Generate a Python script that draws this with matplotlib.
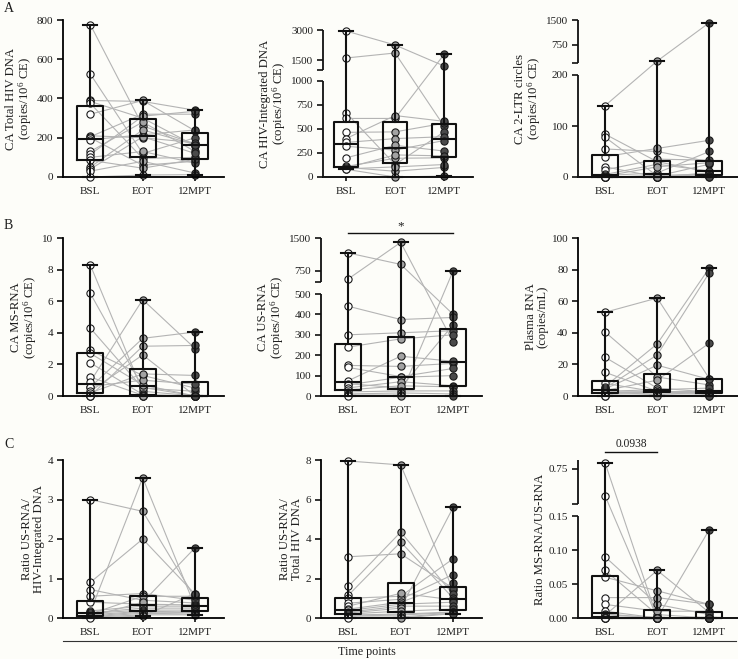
import numpy as np
import matplotlib
matplotlib.use('Agg')
import matplotlib.pyplot as plt
from matplotlib.lines import Line2D

plt.rcParams['font.family'] = 'serif'
plt.rcParams['font.serif'] = ['Liberation Serif', 'DejaVu Serif']
plt.rcParams['mathtext.fontset'] = 'custom'
plt.rcParams['mathtext.rm'] = 'Liberation Serif'
plt.rcParams['mathtext.default'] = 'regular'

categories = ['BSL', 'EOT', '12MPT']

# ---------------- data (one list per time point, patient order) ----------------
a1_bsl = [777, 525, 390, 385, 375, 320, 210, 205, 200, 190, 130, 115, 100, 85, 50, 40, 30, 0]
a1_eot = [260, 120, 385, 300, 95, 390, 200, 320, 60, 215, 280, 310, 130, 45, 240, 205, 80, 10]
a1_mpt = [168, 200, 340, 160, 100, 235, 175, 320, 80, 240, 130, 335, 70, 90, 165, 120, 20, 12]

a2_bsl = [2950, 1600, 670, 610, 465, 400, 360, 320, 200, 110, 100, 95, 85, 80]
a2_eot = [2250, 1850, 130, 610, 470, 640, 400, 280, 330, 195, 60, 230, 105, 0]
a2_mpt = [1200, 530, 470, 1780, 560, 580, 420, 380, 270, 200, 100, 220, 130, 10]

a3_bsl = [140, 84, 78, 55, 40, 20, 14, 5, 3, 2, 0, 0, 0, 0, 0, 0]
a3_eot = [260, 30, 2, 50, 56, 0, 35, 25, 8, 20, 3, 0, 0, 0, 0, 0]
a3_mpt = [1420, 10, 25, 30, 72, 8, 33, 12, 50, 28, 6, 5, 2, 1, 0, 0]

b1_bsl = [8.3, 6.5, 4.3, 2.9, 2.7, 2.1, 1.2, 0.9, 0.6, 0.55, 0.3, 0.2, 0.05, 0, 0, 0]
b1_eot = [0.3, 0.55, 0.5, 1.3, 0.7, 0.1, 0.05, 6.1, 1.0, 3.65, 2.6, 1.4, 0, 3.15, 0, 0]
b1_mpt = [0, 0, 0.3, 0.5, 0, 0, 0, 3.0, 0.75, 4.05, 0, 1.3, 0, 3.2, 0, 0]

b2_bsl = [1160, 570, 440, 300, 240, 150, 140, 75, 60, 55, 40, 30, 20, 10, 5, 0]
b2_eot = [900, 1400, 375, 310, 280, 145, 95, 195, 40, 92, 70, 50, 25, 15, 5, 0]
b2_mpt = [400, 265, 385, 320, 300, 160, 135, 170, 350, 100, 50, 45, 25, 10, 755, 0]

b3_bsl = [53, 40.5, 24.5, 15, 8, 6, 5, 4.5, 3.5, 3, 2.5, 2, 1.5, 1, 0, 0]
b3_eot = [62, 12, 5, 3, 2.5, 33, 26, 19.5, 10, 4, 2.8, 2.6, 2.4, 2, 1, 0]
b3_mpt = [11, 7, 2.5, 2.3, 3, 81, 78, 10.5, 33.5, 5, 2.8, 2, 1.5, 1, 0, 0]

c1_bsl = [3.0, 0.9, 0.72, 0.55, 0.4, 0.18, 0.15, 0.13, 0.12, 0.1, 0.08, 0.05, 0.04, 0.03, 0.02, 0]
c1_eot = [2.7, 2.0, 0.45, 0.62, 0.35, 0.3, 3.55, 0.25, 0.2, 0.55, 0.17, 0.15, 0.4, 0.12, 0.08, 0.05]
c1_mpt = [0.5, 0.6, 0.38, 0.45, 0.33, 0.3, 0.28, 0.25, 0.2, 0.55, 0.15, 0.14, 1.78, 0.1, 0.08, 0.62]

c2_bsl = [7.95, 3.1, 1.6, 1.15, 1.0, 0.75, 0.6, 0.45, 0.38, 0.3, 0.25, 0.2, 0.15, 0.1, 0.05, 0]
c2_eot = [7.75, 3.25, 4.35, 3.85, 1.1, 0.95, 1.25, 0.8, 0.7, 0.6, 0.5, 0.35, 0.2, 0.15, 0.05, 0]
c2_mpt = [1.4, 1.5, 1.2, 1.0, 3.0, 2.2, 0.92, 1.75, 0.8, 0.6, 5.6, 0.45, 0.3, 0.28, 0.25, 0.22]

c3_bsl = [0.85, 0.29, 0.09, 0.07, 0.06, 0.03, 0.02, 0.01, 0.006, 0.005, 0.004, 0.002, 0, 0, 0, 0]
c3_eot = [0, 0, 0.02, 0.005, 0.04, 0.03, 0.01, 0, 0, 0, 0.07, 0, 0, 0, 0, 0]
c3_mpt = [0, 0, 0.005, 0, 0.02, 0.02, 0.01, 0, 0, 0.13, 0.008, 0, 0, 0, 0, 0]

# ---------------- figure ----------------
W, H = 738, 659
fig = plt.figure(figsize=(W / 100, H / 100), dpi=100)
BG = '#fdfdf9'
fig.patch.set_facecolor(BG)

FILLS = ['white', '#a3a3a3', '#4a4a4a']
TXT = '#1e1e1e'
INK = '#111111'


def px_axes(left, top, width, height):
    ax = fig.add_axes([left / W, 1 - (top + height) / H, width / W, height / H])
    ax.set_facecolor('none')
    return ax


def make_break(b, k1, gap, k2):
    def fwd(v):
        v = np.asarray(v, dtype=float)
        return np.where(v <= b, v * k1, b * k1 + gap + (v - b) * k2)

    def inv(y):
        y = np.asarray(y, dtype=float)
        yb = b * k1
        return np.where(y <= yb, y / k1,
                        np.where(y < yb + gap, b, b + (y - yb - gap) / k2))
    return fwd, inv


def panel(ax, series, ylabel, yticks, ytop, xlim, brk=None, fmt='{:g}'):
    pos = np.arange(3)
    bsl, eot, mpt = series
    if brk is not None:
        f, i = make_break(*brk)
        ax.set_yscale('function', functions=(f, i))
    # connecting lines
    for k in range(len(bsl)):
        ax.plot(pos, [bsl[k], eot[k], mpt[k]], color='#b4b4b4', lw=0.8,
                zorder=1, clip_on=False)
    # points
    for j, vals in enumerate(series):
        ax.plot(np.full(len(vals), pos[j]), vals, 'o', ms=5.2, mfc=FILLS[j],
                mec='#1a1a1a', mew=0.8, zorder=2, clip_on=False)
    lp = dict(color=INK, lw=1.5)
    bp = ax.boxplot([np.asarray(s, float) for s in series], positions=pos,
                    widths=0.5, whis=(0, 100), showfliers=False, capwidths=0.27,
                    boxprops=lp, whiskerprops=lp, capprops=lp,
                    medianprops=lp, manage_ticks=False)
    for arts in bp.values():
        for a in arts:
            a.set_zorder(3)
            a.set_clip_on(False)
    ax.set_xlim(*xlim)
    ax.set_ylim(0, ytop)
    ax.set_xticks(pos, categories)
    ax.set_yticks(yticks, [fmt.format(t) for t in yticks])
    for s in ('top', 'right'):
        ax.spines[s].set_visible(False)
    ax.spines['bottom'].set_linewidth(1.3)
    ax.spines['left'].set_linewidth(1.3)
    ax.tick_params(axis='both', direction='out', length=4, width=1.2,
                   labelsize=8, pad=3, colors=INK, labelcolor=TXT)
    ax.tick_params(axis='x', length=3, pad=4)
    if brk is not None:
        b = brk[0]
        ax.spines['left'].set_visible(False)
        tr = ax.get_yaxis_transform()
        ax.plot([0, 0], [0, b], transform=tr, color=INK, lw=1.3,
                clip_on=False, solid_capstyle='butt', zorder=4)
        ax.plot([0, 0], [b * (1 + 1e-9), ytop], transform=tr, color=INK,
                lw=1.3, clip_on=False, solid_capstyle='butt', zorder=4)
        ax.set_yticks([b * (1 + 1e-9)], minor=True)
        ax.tick_params(axis='y', which='minor', direction='out', length=4,
                       width=1.2, colors=INK)
    ax.set_ylabel(ylabel, fontsize=9.2, color=TXT, linespacing=0.95, labelpad=2)


XL = (-0.52, 2.55)
CE = '(copies/10$^6$ CE)'

# Row A
ax = px_axes(63, 20, 161, 157)
panel(ax, (a1_bsl, a1_eot, a1_mpt), 'CA Total HIV DNA\n' + CE,
      [0, 200, 400, 600, 800], 800, XL)

ax = px_axes(323, 30, 150, 147)
panel(ax, (a2_bsl, a2_eot, a2_mpt), 'CA HIV-Integrated DNA\n' + CE,
      [0, 250, 500, 750, 1000, 1500, 3000], 3000, (-0.47, 2.59),
      brk=(1000, 0.096, 11, 0.02))

ax = px_axes(578, 20, 160, 157)
panel(ax, (a3_bsl, a3_eot, a3_mpt), 'CA 2-LTR circles\n' + CE,
      [0, 100, 200, 750, 1500], 1500, XL, brk=(200, 0.51, 12, 43 / 1300))

# Row B
ax = px_axes(63, 238, 161, 158)
panel(ax, (b1_bsl, b1_eot, b1_mpt), 'CA MS-RNA\n' + CE,
      [0, 2, 4, 6, 8, 10], 10, XL)

ax = px_axes(321, 238, 161, 158)
panel(ax, (b2_bsl, b2_eot, b2_mpt), 'CA US-RNA\n' + CE,
      [0, 100, 200, 300, 400, 500, 750, 1500], 1500, XL,
      brk=(500, 0.204, 12, 0.044))
tr = ax.get_xaxis_transform()
ax.plot([0, 2], [1.032, 1.032], transform=tr, color=INK, lw=1.0, clip_on=False)
ax.text(1, 1.035, '*', transform=tr, ha='center', va='bottom', fontsize=9.5, color=TXT)

ax = px_axes(578, 238, 160, 158)
panel(ax, (b3_bsl, b3_eot, b3_mpt), 'Plasma RNA\n(copies/mL)',
      [0, 20, 40, 60, 80, 100], 100, XL)

# Row C
ax = px_axes(63, 460, 161, 158)
panel(ax, (c1_bsl, c1_eot, c1_mpt), 'Ratio US-RNA/\nHIV-Integrated DNA',
      [0, 1, 2, 3, 4], 4, XL)

ax = px_axes(321, 460, 161, 158)
panel(ax, (c2_bsl, c2_eot, c2_mpt), 'Ratio US-RNA/\nTotal HIV DNA',
      [0, 2, 4, 6, 8], 8, XL)

ax = px_axes(578, 460, 160, 158)
panel(ax, (c3_bsl, c3_eot, c3_mpt), 'Ratio MS-RNA/US-RNA',
      [0, 0.05, 0.10, 0.15, 0.75], 0.9, XL, brk=(0.15, 680, 12, 44 / 0.75),
      fmt='{:.2f}')
tr = ax.get_xaxis_transform()
ax.plot([0, 1], [1.05, 1.05], transform=tr, color=INK, lw=1.0, clip_on=False)
ax.text(0.5, 1.062, '0.0938', transform=tr, ha='center', va='bottom', fontsize=8.3,
        color=TXT)

# panel letters, separator and shared x title
for letter, y in (('A', 8), ('B', 225), ('C', 445)):
    fig.text(4 / W, 1 - y / H, letter, ha='left', va='center', fontsize=10, color=TXT)
fig.add_artist(Line2D([63 / W, 736 / W], [1 - 641 / H, 1 - 641 / H],
                      color='#333333', lw=0.8))
fig.text(367 / W, 1 - 652 / H, 'Time points', ha='center', va='center',
         fontsize=8.7, color=TXT)

fig.savefig('out.png', dpi=100, facecolor=BG)
